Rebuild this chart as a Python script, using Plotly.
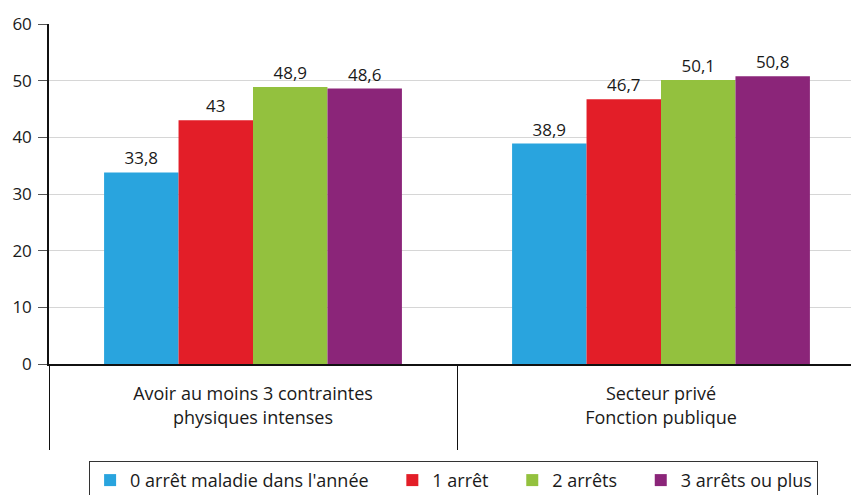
import plotly.graph_objects as go

# Categories (two-line labels) and series
categories = ["Avoir au moins 3 contraintes<br>physiques intenses",
              "Secteur privé<br>Fonction publique"]
series_names = ["0 arrêt maladie dans l'année", "1 arrêt", "2 arrêts", "3 arrêts ou plus"]
zero_stop = [33.8, 38.9]
one_stop = [43, 46.7]
two_stops = [48.9, 50.1]
three_plus = [48.6, 50.8]
colors = ["#29A4DE", "#E31E28", "#93C13E", "#8B2579"]

y_ticks = [0, 10, 20, 30, 40, 50, 60]

font_family = "Open Sans, Noto Sans, sans-serif"
ink = "#1a1a1a"
pad = "\u00a0" * 4  # extra room between legend entries

fig = go.Figure()
for i, (name, vals, col) in enumerate(zip(series_names, [zero_stop, one_stop, two_stops, three_plus], colors)):
    fig.add_trace(go.Bar(
        name=name + (pad if i < len(series_names) - 1 else ""),
        x=categories,
        y=vals,
        marker=dict(color=col, line=dict(width=0)),
        texttemplate="%{y}",
        textposition="outside",
        textfont=dict(size=17, color=ink, family=font_family),
        cliponaxis=False,
    ))

fig.update_layout(
    width=851,
    height=495,
    barmode="group",
    bargap=0.27,
    bargroupgap=0,
    separators=", ",
    paper_bgcolor="white",
    plot_bgcolor="white",
    margin=dict(l=49, r=0, t=24, b=131, autoexpand=False),
    font=dict(family=font_family, color=ink, size=18),
    showlegend=True,
    legend=dict(
        orientation="h",
        x=0.05, xanchor="left",
        y=-0.285, yanchor="top",
        bordercolor="#333333",
        borderwidth=1,
        font=dict(size=18, color=ink, family=font_family),
        traceorder="normal",
        itemclick=False,
    ),
    xaxis=dict(
        type="category",
        range=[-0.5, 1.4657],
        showgrid=False,
        showline=True,
        linecolor="#111111",
        linewidth=1.5,
        tickson="boundaries",
        ticks="outside",
        ticklen=84,
        tickwidth=1,
        tickcolor="#111111",
        ticklabelstandoff=13,
        tickfont=dict(size=18, color=ink, family=font_family),
        fixedrange=True,
    ),
    yaxis=dict(
        range=[0, 60],
        tickvals=y_ticks,
        showgrid=True,
        gridcolor="#d6d6d6",
        gridwidth=1,
        zeroline=False,
        showline=True,
        linecolor="#111111",
        linewidth=1.5,
        ticks="outside",
        ticklen=9,
        tickwidth=1,
        tickcolor="#555555",
        ticklabelstandoff=3,
        tickfont=dict(size=17, color=ink, family=font_family),
        fixedrange=True,
    ),
)

fig.write_html("out.html", config={"displayModeBar": False})
